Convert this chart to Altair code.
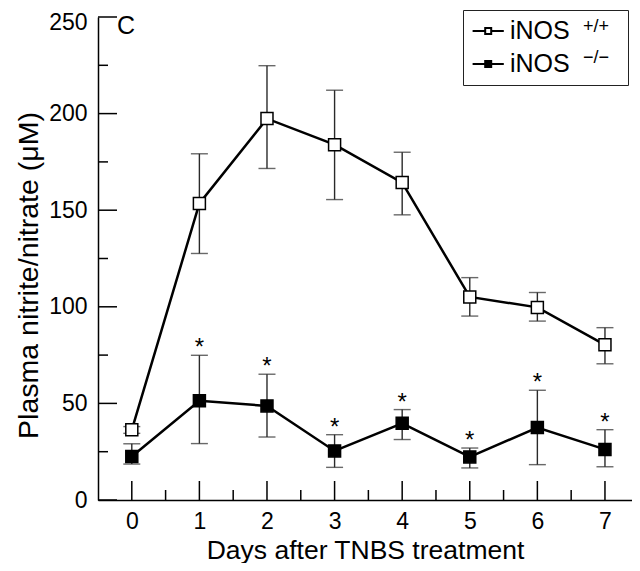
import altair as alt
import pandas as pd

F = "Liberation Sans"

days = [0, 1, 2, 3, 4, 5, 6, 7]
groups = ["iNOS +/+", "iNOS −/−"]
superscripts = ["+/+", "−/−"]

# iNOS +/+ (open squares)
wt_mean = [36.3, 153.5, 197.4, 183.9, 164.3, 105.1, 99.7, 80.3]
wt_lo = [34.5, 127.6, 171.6, 155.5, 147.6, 95.2, 92.6, 70.5]
wt_hi = [38.0, 179.2, 224.8, 212.1, 180.0, 115.1, 107.4, 89.2]

# iNOS -/- (filled squares)
ko_mean = [22.5, 51.4, 48.7, 25.4, 39.7, 22.3, 37.5, 26.2]
ko_lo = [18.6, 29.2, 32.6, 16.9, 31.3, 16.6, 18.3, 17.2]
ko_hi = [29.1, 74.9, 65.1, 33.8, 46.8, 26.9, 56.8, 36.4]
ko_star = ["", "*", "*", "*", "*", "*", "*", "*"]

y_major = [0, 50, 100, 150, 200, 250]
y_minor = [25, 75, 125, 175, 225]
x_major = days
x_minor = [0.5, 1.5, 2.5, 3.5, 4.5, 5.5, 6.5]

XT = "Days after TNBS treatment"
YT = "Plasma nitrite/nitrate (μM)"

rows = []
for i, d in enumerate(days):
    rows.append(dict(day=d, group=groups[0], mean=wt_mean[i], lo=wt_lo[i], hi=wt_hi[i], star=""))
    rows.append(dict(day=d, group=groups[1], mean=ko_mean[i], lo=ko_lo[i], hi=ko_hi[i], star=ko_star[i]))
df = pd.DataFrame(rows)

W, H = 534, 483
xscale = alt.Scale(domain=[-0.5, 7.4], nice=False, zero=False)
yscale = alt.Scale(domain=[0, 250], nice=False, zero=True)

xaxis = alt.Axis(values=x_major, ticks=False, grid=False, labelFlush=False,
                 labelFont=F, labelFontSize=23, labelPadding=10, labelColor="black",
                 domainColor="black", domainWidth=1.5,
                 titleFont=F, titleFontSize=26.5, titleFontWeight="normal",
                 titlePadding=4, titleColor="black", format="d")
yaxis = alt.Axis(values=y_major, ticks=False, grid=False, labelFlush=False,
                 labelFont=F, labelFontSize=23, labelPadding=11, labelColor="black",
                 labelOffset={"condition": {"test": "datum.value == 250", "value": 5}, "value": 0},
                 domainColor="black", domainWidth=1.5,
                 titleFont=F, titleFontSize=28.5, titleFontWeight="normal",
                 titlePadding=5, titleColor="black", titleY=258, format="d")


def X(field):
    return alt.X(field, scale=xscale, axis=xaxis, title=XT)


def Y(field):
    return alt.Y(field, scale=yscale, axis=yaxis, title=YT)


base = alt.Chart(df)

lines = base.mark_line(color="black", strokeWidth=2.5).encode(
    x=X("day:Q"), y=Y("mean:Q"), detail="group:N",
)

err = base.mark_rule(color="#2a2a2a", strokeWidth=1.4).encode(
    x=X("day:Q"), y=Y("lo:Q"), y2="hi:Q",
)
cap_hi = base.mark_tick(orient="horizontal", size=17, thickness=1.4, color="#2a2a2a").encode(
    x=X("day:Q"), y=Y("hi:Q"),
)
cap_lo = base.mark_tick(orient="horizontal", size=17, thickness=1.4, color="#2a2a2a").encode(
    x=X("day:Q"), y=Y("lo:Q"),
)

sym_path = "M-0.95,0H0.1M0.6,0H1.65M0.1,-0.25H0.6V0.25H0.1Z"
lab_pad = "\u00a0" * 1 + "\u200b"
sup_pad = "\u00a0" * 2 + "\u200b"
squares = base.mark_square(size=144, stroke="black", strokeWidth=1.5, opacity=1).encode(
    x=X("day:Q"), y=Y("mean:Q"),
    fill=alt.Fill("group:N", scale=alt.Scale(domain=groups, range=["white", "black"]),
                  legend=alt.Legend(title=[s + sup_pad for s in superscripts],
                                    titleOrient="right", titleAnchor="start",
                                    titleBaseline="top", titleLineHeight=31,
                                    titleFont=F, titleFontSize=18, titleFontWeight="normal",
                                    titleColor="black", titlePadding=6,
                                    orient="none", legendX=365, legendY=-7,
                                    symbolType=sym_path, symbolSize=576,
                                    symbolStrokeColor="black", symbolStrokeWidth=2,
                                    symbolOpacity=1,
                                    labelFont=F, labelFontSize=25, labelColor="black",
                                    labelOffset=13, padding=8, rowPadding=7,
                                    strokeColor="#222222", fillColor="white",
                                    labelExpr="'iNOS" + lab_pad + "'")),
)

stars = base.transform_filter("datum.star != ''").mark_text(
    font=F, fontSize=24, baseline="alphabetic", dy=0, color="black"
).encode(
    x=X("day:Q"), y=Y("hi:Q"), text="star:N",
)

ymaj = alt.Chart(pd.DataFrame({"v": y_major})).mark_rule(color="black", strokeWidth=1.5).encode(
    y=Y("v:Q"), x=alt.value(0), x2=alt.value(19))
ymin = alt.Chart(pd.DataFrame({"v": y_minor})).mark_rule(color="black", strokeWidth=1.5).encode(
    y=Y("v:Q"), x=alt.value(0), x2=alt.value(10))
xmaj = alt.Chart(pd.DataFrame({"v": x_major})).mark_rule(color="black", strokeWidth=1.5).encode(
    x=X("v:Q"), y=alt.value(H), y2=alt.value(H - 19))
xmin = alt.Chart(pd.DataFrame({"v": x_minor})).mark_rule(color="black", strokeWidth=1.5).encode(
    x=X("v:Q"), y=alt.value(H), y2=alt.value(H - 10))

panel = alt.Chart(pd.DataFrame({"t": ["C"]})).mark_text(
    font=F, fontSize=25, align="center", baseline="middle", color="black"
).encode(text="t:N", x=alt.value(28), y=alt.value(9))

chart = alt.layer(
    lines, err, cap_hi, cap_lo, squares, stars, ymaj, ymin, xmaj, xmin, panel
).properties(
    width=W, height=H,
    autosize=alt.AutoSizeParams(type="none"),
    padding={"left": 90, "top": 9, "right": 0, "bottom": 63},
).configure_view(stroke=None)

chart.save("out.html", embed_options={"renderer": "svg", "actions": False})
